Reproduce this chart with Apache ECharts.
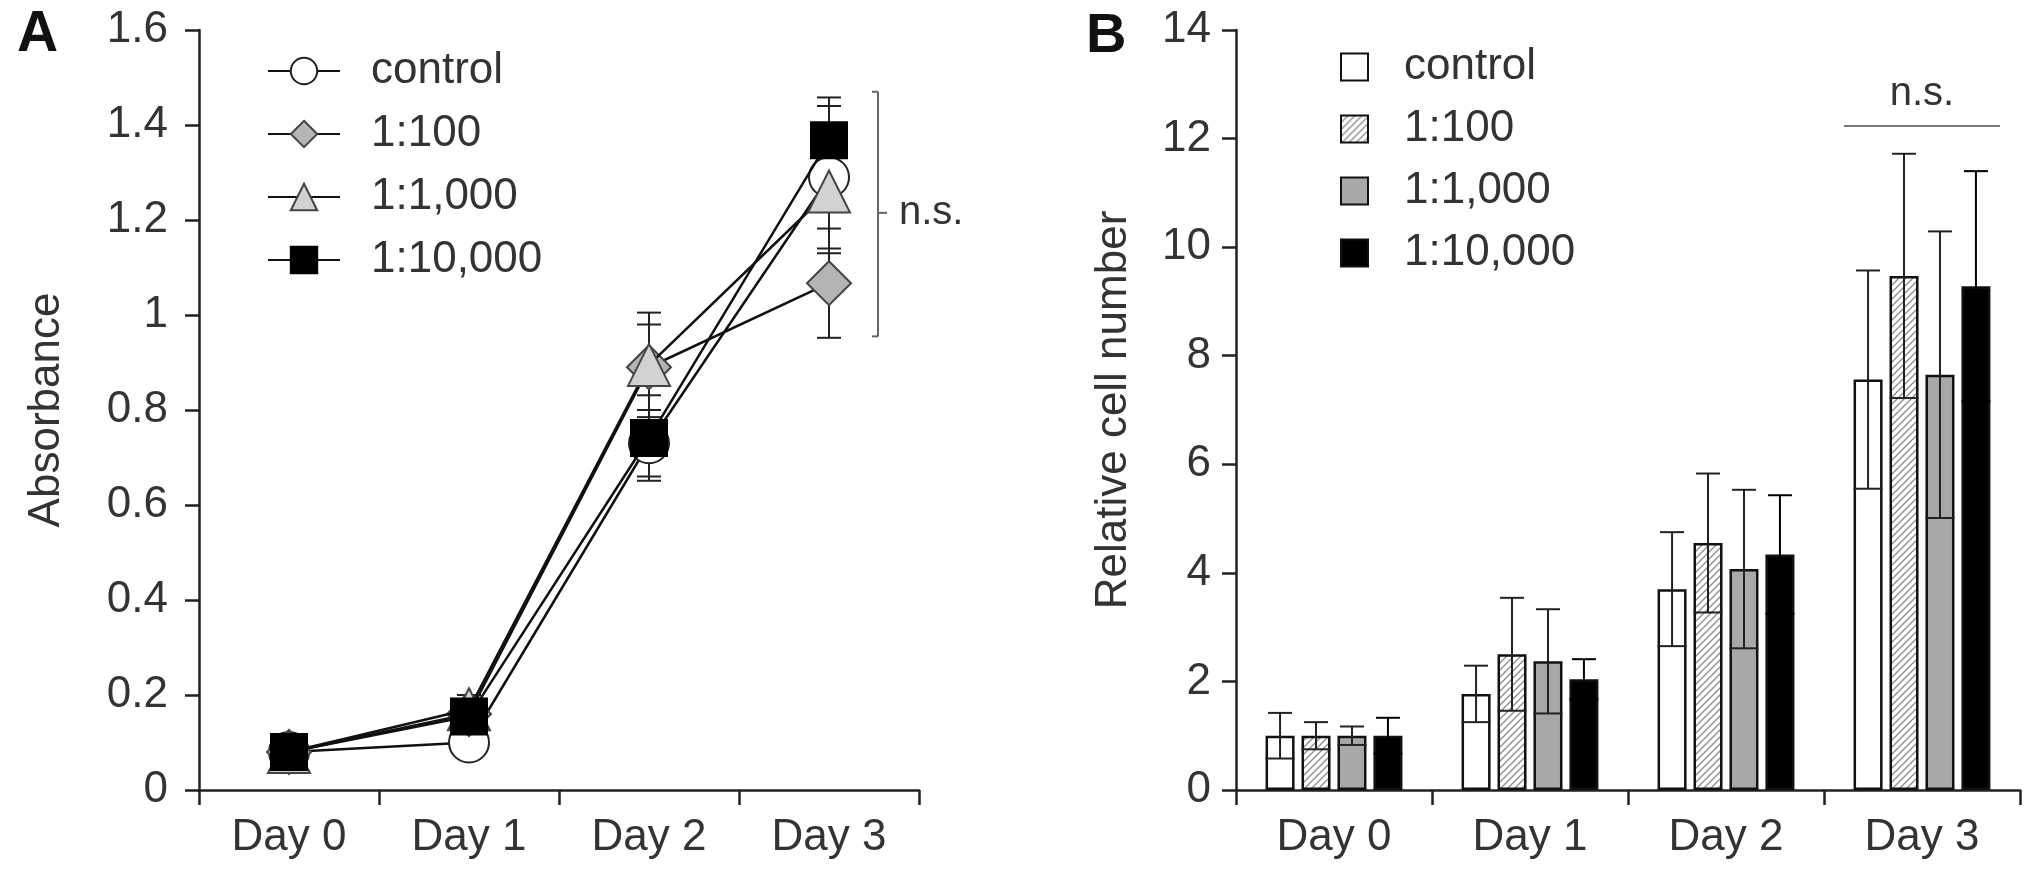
<!DOCTYPE html>
<html><head><meta charset="utf-8">
<script src="https://cdn.jsdelivr.net/npm/echarts@6/dist/echarts.min.js"></script>
<style>html,body{margin:0;padding:0;background:#fff}#c{width:2031px;height:879px}</style>
</head><body><div id="c"></div>
<script>
// ---------- data ----------
const days = ['Day 0', 'Day 1', 'Day 2', 'Day 3'];
const groups = ['control', '1:100', '1:1,000', '1:10,000'];
const yTicksA = [0, 0.2, 0.4, 0.6, 0.8, 1, 1.2, 1.4, 1.6];
const yTicksB = [0, 2, 4, 6, 8, 10, 12, 14];

// Panel A: absorbance (mean, SD)
const absControl = [0.08, 0.10, 0.73, 1.29];
const abs100 = [0.08, 0.16, 0.89, 1.067];
const abs1000 = [0.08, 0.17, 0.895, 1.26];
const abs10000 = [0.08, 0.155, 0.741, 1.368];
const absErrControl = [0.01, 0.01, 0.07, 0.15];
const absErr100 = [0.01, 0.02, 0.09, 0.115];
const absErr1000 = [0.01, 0.03, 0.11, 0.13];
const absErr10000 = [0.01, 0.02, 0.09, 0.09];

// Panel B: relative cell number (mean, SD)
const cellControl = [1.0, 1.77, 3.70, 7.56];
const cell100 = [1.0, 2.50, 4.55, 9.47];
const cell1000 = [1.0, 2.37, 4.07, 7.65];
const cell10000 = [1.0, 2.04, 4.34, 9.28];
const cellErrControl = [0.42, 0.52, 1.05, 2.01];
const cellErr100 = [0.25, 1.04, 1.28, 2.25];
const cellErr1000 = [0.17, 0.96, 1.46, 2.64];
const cellErr10000 = [0.33, 0.37, 1.09, 2.12];

// significance annotations
const nsA = { day: 3, low: 0.955, high: 1.47, mid: 1.215, text: 'n.s.' };
const nsB = { day: 3, level: 12.23, text: 'n.s.' };

// ---------- style ----------
const FONT = 'Liberation Sans, Arial, Helvetica, sans-serif';
const TXT = '#333';
const AX = '#222';
const BAR_W = 29;
const BAR_GAP = 0.24;

const absMeans = [absControl, abs100, abs1000, abs10000];
const absErrs = [absErrControl, absErr100, absErr1000, absErr10000];
const cellMeans = [cellControl, cell100, cell1000, cell10000];
const cellErrs = [cellErrControl, cellErr100, cellErr1000, cellErr10000];

const markerStyles = [
  { symbol: 'circle', size: 40, fill: '#ffffff', border: '#222' },
  { symbol: 'diamond', size: 44, fill: '#b4b4b4', border: '#444' },
  { symbol: 'triangle', size: 42, fill: '#d2d2d2', border: '#444' },
  { symbol: 'rect', size: 36, fill: '#000000', border: '#000' }
];

// hatch pattern
const hatch = document.createElement('canvas');
hatch.width = 7; hatch.height = 7;
(function () {
  const c = hatch.getContext('2d');
  c.fillStyle = '#ffffff'; c.fillRect(0, 0, 7, 7);
  c.strokeStyle = '#8c8c8c'; c.lineWidth = 1.3;
  c.beginPath();
  c.moveTo(-1, 8); c.lineTo(8, -1);
  c.moveTo(-4, 4); c.lineTo(4, -4);
  c.moveTo(3, 11); c.lineTo(11, 3);
  c.stroke();
})();
const barFills = ['#ffffff', { image: hatch, repeat: 'repeat' }, '#a8a8a8', '#000000'];
const errColorsB = ['#222', '#222', '#222', '#000'];

function valueAxis(gridIndex, ticks, name, nameGap, margin) {
  return {
    type: 'value', gridIndex: gridIndex,
    min: ticks[0], max: ticks[ticks.length - 1], interval: ticks[1] - ticks[0],
    name: name, nameLocation: 'middle', nameGap: nameGap,
    nameTextStyle: { fontSize: 44, color: TXT, fontFamily: FONT },
    axisLine: { show: true, lineStyle: { color: AX, width: 2.5 } },
    axisTick: { show: true, length: 14, lineStyle: { color: AX, width: 2.5 } },
    axisLabel: { fontSize: 44, color: TXT, fontFamily: FONT, margin: margin },
    splitLine: { show: false }
  };
}
function catAxis(gridIndex) {
  return {
    type: 'category', gridIndex: gridIndex, data: days,
    axisLine: { show: true, lineStyle: { color: AX, width: 2.5 } },
    axisTick: { show: true, length: 15, interval: 0, lineStyle: { color: AX, width: 2.5 } },
    axisLabel: { fontSize: 44, color: TXT, fontFamily: FONT, margin: 26, interval: 0 },
    splitLine: { show: false }
  };
}

function errLine(x1, y1, x2, y2, w, color) {
  return { type: 'line', shape: { x1: x1, y1: y1, x2: x2, y2: y2 }, style: { stroke: color || '#222', lineWidth: w || 2 } };
}

const series = [];

// Panel A error bars (behind markers)
absMeans.forEach(function (m, i) {
  series.push({
    type: 'custom', name: 'errA' + i, xAxisIndex: 0, yAxisIndex: 0, z: 1,
    data: m.map(function (v, d) { return [d, v, absErrs[i][d]]; }),
    encode: { x: 0, y: 1 },
    renderItem: function (params, api) {
      const d = api.value(0), v = api.value(1), e = api.value(2);
      const t = api.coord([d, v + e]), b = api.coord([d, v - e]);
      const hw = 12;
      return { type: 'group', children: [
        errLine(t[0], t[1], b[0], b[1], 2),
        errLine(t[0] - hw, t[1], t[0] + hw, t[1], 2),
        errLine(b[0] - hw, b[1], b[0] + hw, b[1], 2)
      ] };
    },
    silent: true
  });
});

// Panel A lines
absMeans.forEach(function (m, i) {
  const ms = markerStyles[i];
  series.push({
    type: 'line', name: groups[i], xAxisIndex: 0, yAxisIndex: 0, z: 3 + i,
    data: m, symbol: ms.symbol, symbolSize: ms.size, showAllSymbol: true,
    lineStyle: { color: '#111', width: 2.5 },
    itemStyle: { color: ms.fill, borderColor: ms.border, borderWidth: 2, opacity: 1 },
    emphasis: { disabled: true }
  });
});

// Panel A bracket
series.push({
  type: 'custom', name: 'nsA', xAxisIndex: 0, yAxisIndex: 0, z: 10, silent: true,
  data: [[nsA.day, nsA.low, nsA.high, nsA.mid]],
  encode: { x: 0, y: [1, 2] },
  renderItem: function (params, api) {
    const d = api.value(0);
    const lo = api.coord([d, api.value(1)]), hi = api.coord([d, api.value(2)]), mid = api.coord([d, api.value(3)]);
    const x = lo[0] + 49;
    return { type: 'group', children: [
      errLine(x, hi[1], x, lo[1], 2, '#666'),
      errLine(x - 6, hi[1], x, hi[1], 2, '#666'),
      errLine(x - 6, lo[1], x, lo[1], 2, '#666'),
      errLine(x, mid[1], x + 9, mid[1], 2, '#666'),
      { type: 'text', style: { x: x + 21, y: mid[1], text: nsA.text, fill: TXT, fontSize: 40, fontFamily: FONT, verticalAlign: 'middle', align: 'left' } }
    ] };
  }
});

// Panel B bars
const namesB = groups.map(function (g) { return 'B ' + g; });
cellMeans.forEach(function (m, i) {
  series.push({
    type: 'bar', name: namesB[i], xAxisIndex: 1, yAxisIndex: 1, z: 2,
    data: m, barWidth: BAR_W, barGap: (BAR_GAP * 100) + '%',
    itemStyle: { color: barFills[i], borderColor: '#111', borderWidth: 2.5 },
    emphasis: { disabled: true }
  });
});

// Panel B error bars
cellMeans.forEach(function (m, i) {
  series.push({
    type: 'custom', name: 'errB' + i, xAxisIndex: 1, yAxisIndex: 1, z: 5, silent: true,
    data: m.map(function (v, d) { return [d, v, cellErrs[i][d]]; }),
    encode: { x: 0, y: 1 },
    renderItem: function (params, api) {
      const d = api.value(0), v = api.value(1), e = api.value(2);
      const step = BAR_W * (1 + BAR_GAP);
      const cx = api.coord([d, v])[0] + (i - 1.5) * step;
      const ty = api.coord([d, v + e])[1], by = api.coord([d, v - e])[1];
      const col = errColorsB[i];
      return { type: 'group', children: [
        errLine(cx, ty, cx, by, 2, col),
        errLine(cx - 12, ty, cx + 12, ty, 2, col),
        errLine(cx - BAR_W / 2, by, cx + BAR_W / 2, by, 2, col)
      ] };
    }
  });
});

// Panel B n.s. line
series.push({
  type: 'custom', name: 'nsB', xAxisIndex: 1, yAxisIndex: 1, z: 10, silent: true,
  data: [[nsB.day, nsB.level]],
  encode: { x: 0, y: 1 },
  renderItem: function (params, api) {
    const p = api.coord([api.value(0), api.value(1)]);
    const half = 78;
    return { type: 'group', children: [
      errLine(p[0] - half, p[1], p[0] + half, p[1], 2, '#777'),
      { type: 'text', style: { x: p[0], y: p[1] - 12, text: nsB.text, fill: TXT, fontSize: 40, fontFamily: FONT, verticalAlign: 'bottom', align: 'center' } }
    ] };
  }
});

const option = {
  animation: false,
  backgroundColor: '#ffffff',
  title: [
    { text: 'A', left: 12, top: 2, textStyle: { fontSize: 57, fontWeight: 'bold', color: '#111', fontFamily: FONT } },
    { text: 'B', left: 1081, top: 4, textStyle: { fontSize: 56, fontWeight: 'bold', color: '#111', fontFamily: FONT } }
  ],
  grid: [
    { left: 199, top: 30, width: 720, height: 760 },
    { left: 1236, top: 30, width: 784, height: 760 }
  ],
  xAxis: [catAxis(0), catAxis(1)],
  yAxis: [
    valueAxis(0, yTicksA, 'Absorbance', 130, 31),
    valueAxis(1, yTicksB, 'Relative cell number', 100, 25)
  ],
  legend: [
    {
      data: groups, orient: 'vertical', left: 262, top: 44,
      itemWidth: 72, itemHeight: 33, itemGap: 19, selectedMode: false,
      textStyle: { fontSize: 44, lineHeight: 44, color: TXT, fontFamily: FONT, padding: [0, 0, 0, 26] }
    },
    {
      data: namesB, orient: 'vertical', left: 1335, top: 40, icon: 'rect',
      itemWidth: 27, itemHeight: 27, itemGap: 18, selectedMode: false,
      formatter: function (n) { return n.slice(2); },
      textStyle: { fontSize: 44, lineHeight: 44, color: TXT, fontFamily: FONT, padding: [0, 0, 0, 31] }
    }
  ],
  series: series
};

const chart = echarts.init(document.getElementById('c'), null, { renderer: 'canvas' });
chart.setOption(option);
</script>
</body></html>
